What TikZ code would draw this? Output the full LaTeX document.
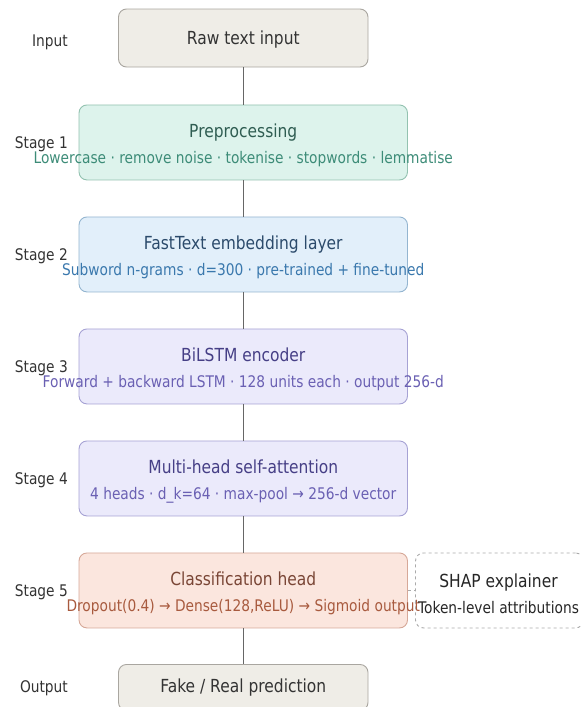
\documentclass[tikz,border=0pt]{standalone}
\usepackage{fontspec}
\setmainfont[FakeStretch=0.86]{DejaVu Sans}
\begin{document}
\begin{tikzpicture}[x=1pt,y=-1pt,
  box/.style={draw, rounded corners=8pt, line width=0.9pt, inner sep=0pt, anchor=north,
              minimum width=328.5pt, minimum height=75pt},
  endbox/.style={draw=nbd, fill=nbf, rounded corners=8pt, line width=0.9pt, inner sep=0pt,
              minimum width=249.5pt, text=ntx, font=\fontsize{18}{20}\selectfont},
  ttl/.style={anchor=base, inner sep=0pt, font=\fontsize{18}{20}\selectfont},
  sub/.style={anchor=base, inner sep=0pt, font=\fontsize{16}{18}\selectfont},
  lbl/.style={anchor=base east, inner sep=0pt, text=ntx, font=\fontsize{16}{18}\selectfont},
  conn/.style={draw=lnc, line width=1pt}]
\definecolor{nbf}{HTML}{EFEDE7}\definecolor{nbd}{HTML}{A9A6A0}\definecolor{ntx}{HTML}{333333}
\definecolor{gf}{HTML}{DDF3EC}\definecolor{gd}{HTML}{93C2B0}\definecolor{gt}{HTML}{2F5D52}\definecolor{gs}{HTML}{3D8C78}
\definecolor{bf}{HTML}{E2EFFA}\definecolor{bd}{HTML}{94B5D0}\definecolor{bt}{HTML}{2B4A6B}\definecolor{bs}{HTML}{3A78AD}
\definecolor{pf}{HTML}{EBEAFB}\definecolor{pd}{HTML}{A6A2D4}\definecolor{pt}{HTML}{463F86}\definecolor{ps}{HTML}{6A60B3}
\definecolor{of}{HTML}{FBE6DE}\definecolor{od}{HTML}{D6A898}\definecolor{ot}{HTML}{7A4636}\definecolor{os}{HTML}{A85A3E}
\definecolor{lnc}{HTML}{666666}\definecolor{shd}{HTML}{AAAAAA}
\path[use as bounding box] (0,0) rectangle (581,707);
\clip (0,0) rectangle (581,707);

% input / output
\node[endbox, minimum height=58pt] (inp) at (243.25,38) {};
\node[anchor=base, inner sep=0pt, text=ntx, font=\fontsize{18}{20}\selectfont] (inpt) at (243.25,44) {Raw text input};
\node[lbl] (linp) at (68,46) {Input};

\node[endbox, minimum height=46pt, anchor=north] (out) at (243.25,664) {};
\node[anchor=base, inner sep=0pt, text=ntx, font=\fontsize{18}{20}\selectfont] (outt) at (243.25,692) {Fake / Real prediction};
\node[lbl] (lout) at (68,692) {Output};

% stage boxes
\node[box, draw=gd, fill=gf] (s1) at (243.25,104.5) {};
\node[ttl, text=gt] (s1t) at (243.25,137.5) {Preprocessing};
\node[sub, text=gs] (s1s) at (243.25,163.5) {Lowercase · remove noise · tokenise · stopwords · lemmatise};
\node[lbl] (l1) at (68,148) {Stage 1};

\node[box, draw=bd, fill=bf] (s2) at (243.25,216.5) {};
\node[ttl, text=bt] (s2t) at (243.25,249.5) {FastText embedding layer};
\node[sub, text=bs] (s2s) at (243.25,275.5) {Subword n-grams · d=300 · pre-trained + fine-tuned};
\node[lbl] (l2) at (68,260) {Stage 2};

\node[box, draw=pd, fill=pf] (s3) at (243.25,328.5) {};
\node[ttl, text=pt] (s3t) at (243.25,361.5) {BiLSTM encoder};
\node[sub, text=ps] (s3s) at (243.25,387.5) {Forward + backward LSTM · 128 units each · output 256-d};
\node[lbl] (l3) at (68,372) {Stage 3};

\node[box, draw=pd, fill=pf] (s4) at (243.25,440.5) {};
\node[ttl, text=pt] (s4t) at (243.25,473.5) {Multi-head self-attention};
\node[sub, text=ps] (s4s) at (243.25,499.5) {4 heads · d\_k=64 · max-pool → 256-d vector};
\node[lbl] (l4) at (68,484) {Stage 4};

\node[box, draw=od, fill=of] (s5) at (243.25,552.5) {};
\node[ttl, text=ot] (s5t) at (243.25,585.5) {Classification head};
\node[sub, text=os] (s5s) at (243.25,611.5) {Dropout(0.4) → Dense(128,ReLU) → Sigmoid output};
\node[lbl] (l5) at (68,596) {Stage 5};

% SHAP
\node[draw=shd, dashed, rounded corners=8pt, line width=0.9pt, anchor=north, inner sep=0pt,
      minimum width=168pt, minimum height=75pt] (shap) at (499.5,552.5) {};
\node[ttl, text=black!85] (shapt) at (498.5,587.5) {SHAP explainer};
\node[sub, text=black!85] (shaps) at (498.5,613.5) {Token-level attributions};

% connectors
\draw[conn] (inp.south) -- (s1.north);
\draw[conn] (s1.south) -- (s2.north);
\draw[conn] (s2.south) -- (s3.north);
\draw[conn] (s3.south) -- (s4.north);
\draw[conn] (s4.south) -- (s5.north);
\draw[conn] (s5.south) -- (out.north);
\draw[draw=shd, dashed, line width=0.9pt] (s5.east) -- (shap.west);
\end{tikzpicture}
\end{document}
